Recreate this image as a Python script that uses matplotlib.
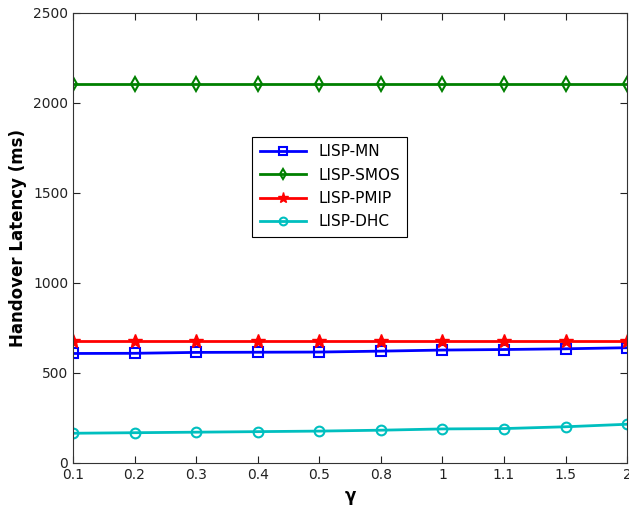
import matplotlib
matplotlib.use("Agg")
import matplotlib.pyplot as plt
import numpy as np

gamma_labels = ["0.1", "0.2", "0.3", "0.4", "0.5", "0.8", "1", "1.1", "1.5", "2"]
lisp_mn = [608, 609, 614, 615, 616, 621, 627, 630, 634, 640]
lisp_smos = [2107, 2107, 2107, 2107, 2107, 2107, 2107, 2107, 2107, 2107]
lisp_pmip = [677, 677, 677, 677, 677, 677, 677, 677, 677, 677]
lisp_dhc = [165, 168, 171, 174, 177, 182, 189, 191, 201, 215]

plt.rcParams['font.family'] = ['DejaVu Sans']
fig = plt.figure(figsize=(6.29, 5.11), dpi=100)
ax = fig.add_axes([0.116, 0.094, 0.881, 0.881])
x = np.arange(len(gamma_labels))

ax.plot(x, lisp_mn, color='#0000ff', lw=2, marker='s', ms=7, mfc='none', mew=1.5, label='LISP-MN')
ax.plot(x, lisp_smos, color='#008000', lw=2, marker='d', ms=7, mfc='none', mew=1.5, label='LISP-SMOS')
ax.plot(x, lisp_pmip, color='#ff0000', lw=2, marker='*', ms=10, mfc='#ff0000', mew=1, label='LISP-PMIP')
ax.plot(x, lisp_dhc, color='#00bfbf', lw=2, marker='o', ms=7, mfc='none', mew=1.5, label='LISP-DHC')

ax.set_xlim(0, len(gamma_labels) - 1)
ax.set_ylim(0, 2500)
ax.set_xticks(x)
ax.set_xticklabels(gamma_labels)
ax.set_yticks([0, 500, 1000, 1500, 2000, 2500])
ax.tick_params(direction='in', top=True, right=True, labelsize=10, length=5, colors='#222222')
for s in ax.spines.values():
    s.set_color('#333333')
ax.set_ylabel('Handover Latency (ms)', fontsize=12, fontweight='bold')
ax.set_xlabel('γ', fontsize=12, fontweight='bold')

leg = ax.legend(loc='upper left', bbox_to_anchor=(0.31, 0.742), fontsize=11,
                fancybox=False, edgecolor='black', framealpha=1, markerscale=0.8,
                handlelength=3, borderpad=0.5, labelspacing=0.55)
leg.get_frame().set_linewidth(0.8)

fig.savefig('out.png', dpi=100)
